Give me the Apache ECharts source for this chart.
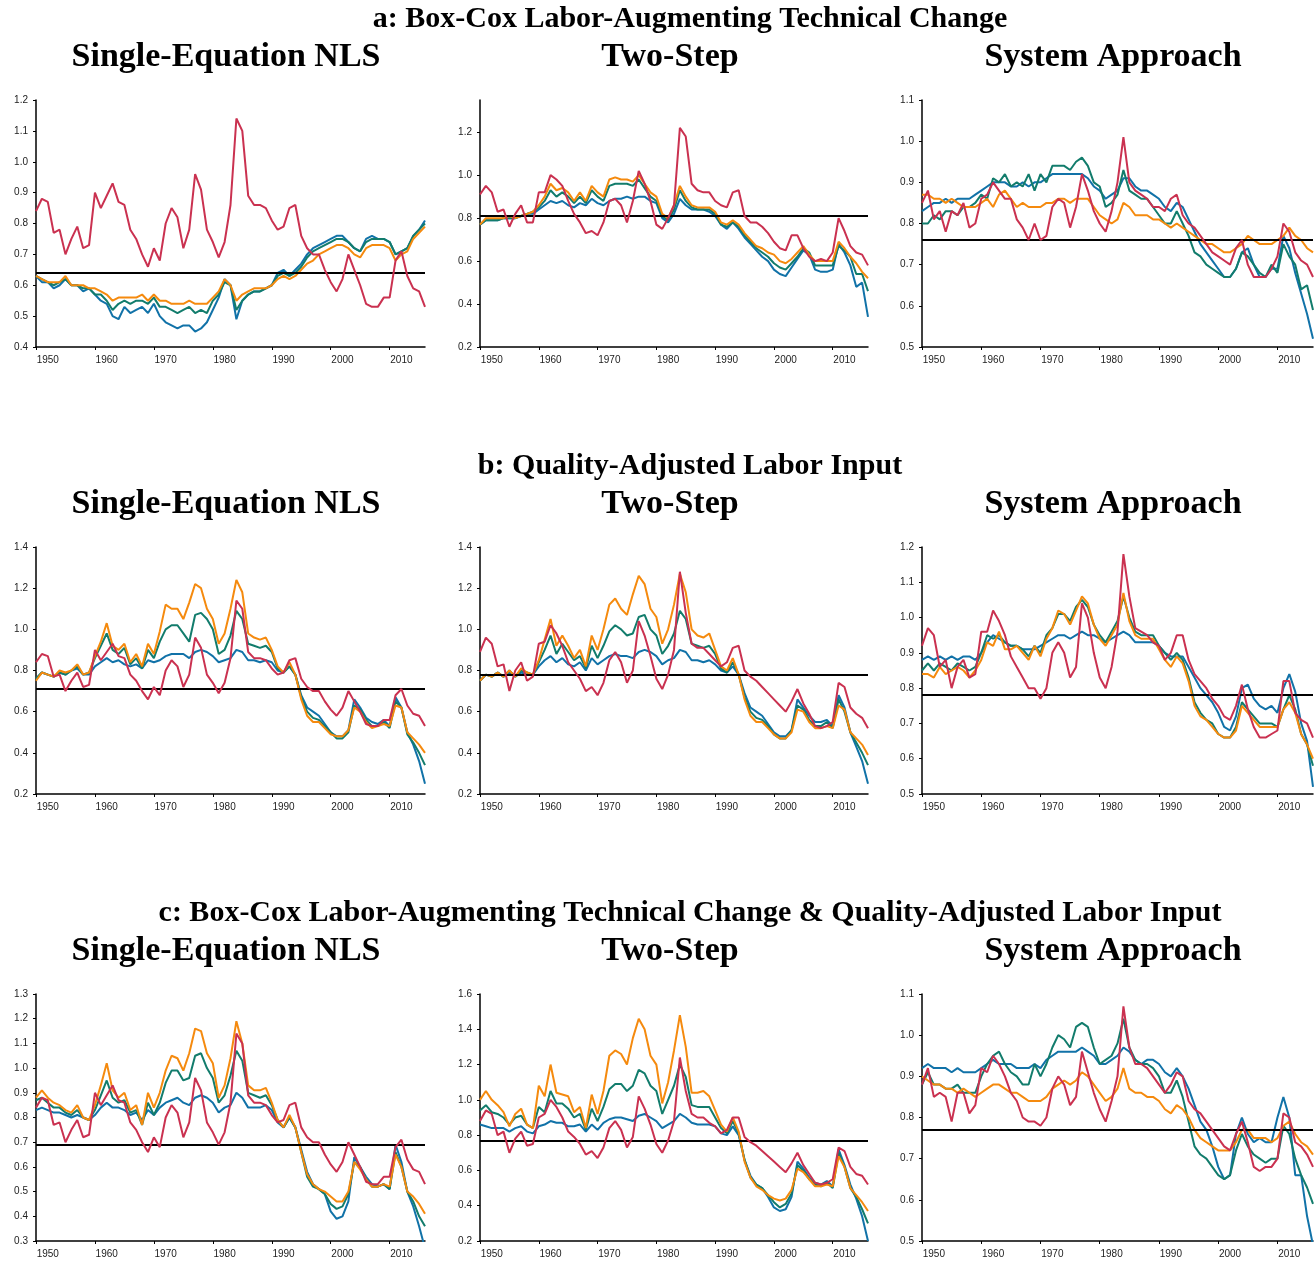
<!DOCTYPE html>
<html><head><meta charset="utf-8">
<script src="https://cdn.jsdelivr.net/npm/echarts@6/dist/echarts.min.js"></script>
<style>html,body{margin:0;padding:0;background:#fff}#c{width:1316px;height:1263px}</style>
</head><body><div id="c"></div>
<script>
// ---------- DATA (annual readings, 1948 .. 2014) ----------
const years = [];
for (let y = 1948; y <= 2014; y++) years.push(y);
const xLabelYears = [1950, 1960, 1970, 1980, 1990, 2000, 2010];
const xTickYears = [1948, 1958, 1968, 1978, 1988, 1998, 2008];

const rowTitles = ['a: Box-Cox Labor-Augmenting Technical Change', 'b: Quality-Adjusted Labor Input',
  'c: Box-Cox Labor-Augmenting Technical Change & Quality-Adjusted Labor Input'];
const colTitles = ['Single-Equation NLS', 'Two-Step', 'System Approach'];

const meansA = [0.635, 0.805, 0.755];
const meansB = [0.707, 0.778, 0.775];
const meansC = [0.690, 0.767, 0.766];

// Panel a1
const a1Red = [0.84,0.88,0.87,0.77,0.78,0.70,0.75,0.79,0.72,0.73,
 0.90,0.85,0.89,0.93,0.87,0.86,0.78,0.75,0.70,0.66,
 0.72,0.68,0.80,0.85,0.82,0.72,0.78,0.96,0.91,0.78,
 0.74,0.69,0.74,0.86,1.14,1.10,0.89,0.86,0.86,0.85,
 0.81,0.78,0.79,0.85,0.86,0.76,0.72,0.70,0.70,0.65,
 0.61,0.58,0.62,0.70,0.65,0.60,0.54,0.53,0.53,0.56,
 0.56,0.68,0.71,0.63,0.59,0.58,0.53];
const a1Teal = [0.63,0.62,0.61,0.60,0.61,0.62,0.60,0.60,0.59,0.59,
 0.57,0.57,0.55,0.52,0.54,0.55,0.54,0.55,0.55,0.54,
 0.56,0.53,0.53,0.52,0.51,0.52,0.53,0.51,0.52,0.51,
 0.55,0.57,0.61,0.60,0.52,0.55,0.57,0.58,0.58,0.59,
 0.60,0.63,0.64,0.63,0.64,0.66,0.69,0.71,0.72,0.73,
 0.74,0.75,0.75,0.74,0.72,0.71,0.74,0.75,0.75,0.75,
 0.74,0.70,0.71,0.72,0.76,0.78,0.80];
const a1Orange = [0.63,0.62,0.61,0.61,0.61,0.63,0.60,0.60,0.60,0.59,
 0.59,0.58,0.57,0.55,0.56,0.56,0.56,0.56,0.57,0.55,
 0.57,0.55,0.55,0.54,0.54,0.54,0.55,0.54,0.54,0.54,
 0.56,0.58,0.62,0.60,0.55,0.57,0.58,0.59,0.59,0.59,
 0.60,0.62,0.63,0.62,0.63,0.65,0.67,0.68,0.70,0.71,
 0.72,0.73,0.73,0.72,0.70,0.69,0.72,0.73,0.73,0.73,
 0.72,0.68,0.70,0.71,0.75,0.77,0.79];
const a1Blue = [0.63,0.61,0.61,0.59,0.60,0.62,0.60,0.60,0.58,0.59,
 0.57,0.55,0.54,0.50,0.49,0.53,0.51,0.52,0.53,0.51,
 0.54,0.50,0.48,0.47,0.46,0.47,0.47,0.45,0.46,0.48,
 0.52,0.56,0.62,0.60,0.49,0.55,0.57,0.58,0.58,0.59,
 0.60,0.64,0.65,0.63,0.65,0.67,0.70,0.72,0.73,0.74,
 0.75,0.76,0.76,0.74,0.72,0.71,0.75,0.76,0.75,0.75,
 0.74,0.70,0.71,0.72,0.76,0.78,0.81];

// Panel a2
const a2Red = [0.91,0.95,0.92,0.83,0.84,0.76,0.82,0.86,0.78,0.78,
 0.92,0.92,1.00,0.98,0.95,0.88,0.82,0.78,0.73,0.74,
 0.72,0.78,0.88,0.89,0.86,0.78,0.88,1.02,0.96,0.88,
 0.77,0.75,0.80,0.86,1.22,1.18,0.96,0.93,0.92,0.92,
 0.88,0.86,0.85,0.92,0.93,0.81,0.78,0.78,0.76,0.73,
 0.69,0.66,0.65,0.72,0.72,0.66,0.62,0.60,0.61,0.60,
 0.64,0.80,0.74,0.67,0.64,0.63,0.58];
const a2Teal = [0.77,0.79,0.79,0.79,0.80,0.80,0.80,0.81,0.82,0.83,
 0.85,0.88,0.93,0.90,0.92,0.90,0.87,0.90,0.87,0.93,
 0.90,0.88,0.95,0.96,0.96,0.96,0.95,0.98,0.94,0.90,
 0.88,0.81,0.79,0.84,0.93,0.88,0.85,0.84,0.84,0.84,
 0.82,0.77,0.76,0.78,0.76,0.72,0.69,0.66,0.64,0.62,
 0.59,0.57,0.56,0.59,0.62,0.66,0.64,0.58,0.58,0.58,
 0.58,0.67,0.65,0.62,0.54,0.54,0.46];
const a2Orange = [0.77,0.80,0.80,0.80,0.80,0.81,0.80,0.81,0.82,0.83,
 0.86,0.90,0.96,0.93,0.94,0.92,0.88,0.92,0.88,0.95,
 0.92,0.90,0.98,0.99,0.98,0.98,0.97,1.00,0.96,0.92,
 0.90,0.82,0.80,0.86,0.95,0.90,0.86,0.85,0.85,0.85,
 0.83,0.78,0.77,0.79,0.77,0.73,0.70,0.67,0.66,0.64,
 0.63,0.60,0.59,0.61,0.64,0.67,0.63,0.60,0.60,0.60,
 0.60,0.69,0.66,0.62,0.59,0.55,0.52];
const a2Blue = [0.77,0.79,0.79,0.79,0.80,0.80,0.80,0.81,0.82,0.82,
 0.84,0.86,0.88,0.87,0.88,0.86,0.85,0.87,0.86,0.89,
 0.87,0.86,0.88,0.89,0.89,0.90,0.89,0.90,0.90,0.88,
 0.87,0.80,0.78,0.82,0.89,0.86,0.84,0.84,0.84,0.83,
 0.81,0.77,0.75,0.78,0.75,0.71,0.68,0.65,0.62,0.60,
 0.56,0.54,0.53,0.57,0.61,0.65,0.63,0.56,0.55,0.55,
 0.56,0.68,0.64,0.58,0.48,0.50,0.34];

// Panel a3
const a3Red = [0.85,0.88,0.81,0.83,0.78,0.83,0.82,0.85,0.79,0.80,
 0.86,0.87,0.90,0.88,0.86,0.86,0.81,0.79,0.76,0.80,
 0.76,0.77,0.84,0.86,0.85,0.79,0.84,0.92,0.88,0.83,
 0.80,0.78,0.83,0.90,1.01,0.90,0.88,0.87,0.86,0.84,
 0.84,0.83,0.86,0.87,0.82,0.80,0.79,0.77,0.75,0.73,
 0.72,0.71,0.70,0.74,0.76,0.70,0.67,0.67,0.67,0.69,
 0.72,0.80,0.78,0.73,0.71,0.70,0.67];
const a3Teal = [0.80,0.80,0.82,0.81,0.83,0.83,0.82,0.84,0.84,0.85,
 0.87,0.86,0.91,0.90,0.92,0.89,0.90,0.89,0.92,0.88,
 0.92,0.90,0.94,0.94,0.94,0.93,0.95,0.96,0.94,0.90,
 0.89,0.84,0.85,0.87,0.93,0.88,0.87,0.86,0.86,0.84,
 0.82,0.80,0.80,0.83,0.80,0.77,0.73,0.72,0.70,0.69,
 0.68,0.67,0.67,0.69,0.73,0.72,0.70,0.68,0.67,0.70,
 0.68,0.75,0.72,0.70,0.64,0.65,0.59];
const a3Orange = [0.87,0.87,0.86,0.86,0.85,0.86,0.85,0.84,0.84,0.84,
 0.85,0.86,0.84,0.87,0.88,0.86,0.84,0.85,0.84,0.84,
 0.84,0.85,0.85,0.86,0.86,0.85,0.86,0.86,0.86,0.84,
 0.82,0.81,0.80,0.81,0.85,0.84,0.82,0.82,0.82,0.81,
 0.81,0.80,0.79,0.80,0.79,0.78,0.77,0.76,0.75,0.75,
 0.74,0.73,0.73,0.74,0.75,0.77,0.76,0.75,0.75,0.75,
 0.76,0.77,0.79,0.77,0.76,0.74,0.73];
const a3Blue = [0.83,0.84,0.85,0.85,0.86,0.85,0.86,0.86,0.86,0.87,
 0.88,0.89,0.90,0.90,0.90,0.89,0.89,0.90,0.89,0.90,
 0.90,0.91,0.92,0.92,0.92,0.92,0.92,0.92,0.91,0.89,
 0.88,0.86,0.87,0.88,0.91,0.91,0.89,0.88,0.88,0.87,
 0.86,0.84,0.83,0.85,0.84,0.81,0.78,0.75,0.73,0.71,
 0.69,0.67,0.67,0.69,0.73,0.74,0.70,0.67,0.67,0.69,
 0.69,0.77,0.74,0.68,0.63,0.58,0.52];

// Panel b1 (red series reads the same as in panel a1)
const b1Red = a1Red;
const b1Teal = [0.76,0.79,0.78,0.77,0.79,0.78,0.80,0.82,0.78,0.79,
 0.86,0.92,0.98,0.90,0.88,0.91,0.83,0.86,0.81,0.90,
 0.86,0.94,1.00,1.02,1.02,0.98,0.94,1.07,1.08,1.05,
 1.00,0.88,0.90,0.97,1.09,1.05,0.93,0.92,0.91,0.92,
 0.89,0.81,0.79,0.82,0.78,0.67,0.60,0.57,0.56,0.53,
 0.50,0.47,0.47,0.50,0.63,0.61,0.56,0.53,0.53,0.55,
 0.52,0.65,0.62,0.49,0.45,0.40,0.34];
const b1Orange = [0.75,0.79,0.78,0.77,0.80,0.79,0.80,0.83,0.78,0.79,
 0.87,0.94,1.03,0.92,0.90,0.93,0.84,0.88,0.82,0.93,
 0.88,0.99,1.12,1.10,1.10,1.05,1.13,1.22,1.20,1.10,
 1.05,0.93,0.98,1.10,1.24,1.18,0.98,0.96,0.95,0.96,
 0.90,0.82,0.79,0.84,0.78,0.66,0.58,0.55,0.55,0.52,
 0.49,0.48,0.48,0.51,0.62,0.60,0.55,0.52,0.53,0.54,
 0.53,0.63,0.62,0.50,0.47,0.44,0.40];
const b1Blue = [0.76,0.79,0.78,0.77,0.79,0.78,0.80,0.81,0.78,0.78,
 0.82,0.84,0.86,0.84,0.85,0.83,0.82,0.83,0.81,0.85,
 0.84,0.85,0.87,0.88,0.88,0.88,0.86,0.89,0.90,0.89,
 0.87,0.84,0.85,0.86,0.90,0.89,0.85,0.85,0.84,0.85,
 0.84,0.80,0.79,0.82,0.78,0.68,0.62,0.60,0.58,0.54,
 0.50,0.48,0.48,0.51,0.66,0.62,0.57,0.55,0.54,0.56,
 0.53,0.67,0.62,0.50,0.44,0.36,0.25];

// Panel b2
const b2Red = [0.89,0.96,0.93,0.82,0.83,0.70,0.80,0.84,0.75,0.77,
 0.93,0.94,1.02,0.98,0.92,0.84,0.80,0.76,0.70,0.72,
 0.68,0.74,0.85,0.89,0.84,0.74,0.80,1.04,0.97,0.87,
 0.76,0.71,0.78,0.90,1.28,1.08,0.93,0.91,0.91,0.88,
 0.85,0.82,0.84,0.91,0.92,0.80,0.77,0.75,0.72,0.69,
 0.66,0.63,0.60,0.65,0.71,0.64,0.59,0.53,0.52,0.53,
 0.55,0.74,0.72,0.62,0.59,0.57,0.52];
const b2Teal = [0.75,0.78,0.77,0.79,0.77,0.80,0.77,0.80,0.79,0.78,
 0.84,0.90,0.97,0.88,0.93,0.89,0.85,0.87,0.81,0.92,
 0.86,0.92,0.99,1.02,1.00,0.97,0.98,1.06,1.07,1.00,
 0.97,0.88,0.92,0.98,1.09,1.05,0.93,0.92,0.91,0.92,
 0.88,0.81,0.79,0.84,0.78,0.67,0.60,0.57,0.56,0.53,
 0.49,0.47,0.47,0.51,0.63,0.61,0.56,0.53,0.53,0.55,
 0.52,0.66,0.60,0.50,0.45,0.40,0.34];
const b2Orange = [0.75,0.78,0.77,0.79,0.77,0.80,0.77,0.81,0.79,0.78,
 0.85,0.95,1.05,0.92,0.97,0.92,0.86,0.90,0.82,0.97,
 0.90,1.00,1.12,1.15,1.10,1.07,1.17,1.26,1.22,1.10,
 1.06,0.93,1.00,1.12,1.27,1.18,1.00,0.97,0.96,0.98,
 0.90,0.82,0.80,0.86,0.78,0.66,0.58,0.55,0.55,0.52,
 0.49,0.47,0.47,0.50,0.61,0.60,0.55,0.52,0.52,0.53,
 0.52,0.63,0.61,0.50,0.47,0.44,0.39];
const b2Blue = [0.75,0.78,0.77,0.79,0.77,0.79,0.77,0.79,0.78,0.78,
 0.82,0.85,0.87,0.84,0.86,0.83,0.82,0.84,0.80,0.86,
 0.83,0.85,0.87,0.88,0.87,0.87,0.86,0.89,0.90,0.89,
 0.87,0.83,0.85,0.86,0.90,0.89,0.85,0.85,0.84,0.85,
 0.83,0.80,0.79,0.82,0.78,0.69,0.62,0.60,0.58,0.54,
 0.50,0.48,0.48,0.51,0.66,0.62,0.58,0.55,0.55,0.56,
 0.53,0.68,0.62,0.50,0.43,0.36,0.25];

// Panel b3
const b3Red = [0.92,0.97,0.95,0.86,0.88,0.80,0.86,0.88,0.83,0.84,
 0.96,0.96,1.02,0.99,0.95,0.89,0.86,0.83,0.80,0.80,
 0.77,0.80,0.90,0.93,0.90,0.83,0.86,1.04,1.00,0.90,
 0.83,0.80,0.86,0.96,1.18,1.06,0.97,0.96,0.95,0.93,
 0.92,0.88,0.90,0.95,0.95,0.88,0.84,0.82,0.80,0.77,
 0.75,0.72,0.71,0.75,0.81,0.74,0.69,0.66,0.66,0.67,
 0.68,0.82,0.82,0.73,0.71,0.70,0.66];
const b3Teal = [0.85,0.87,0.85,0.87,0.86,0.85,0.87,0.86,0.85,0.86,
 0.90,0.95,0.94,0.95,0.93,0.92,0.92,0.91,0.89,0.92,
 0.90,0.95,0.97,1.01,1.01,0.99,1.03,1.05,1.03,0.98,
 0.95,0.93,0.96,0.99,1.06,1.00,0.96,0.95,0.95,0.95,
 0.92,0.90,0.88,0.90,0.88,0.83,0.76,0.73,0.71,0.70,
 0.67,0.66,0.66,0.69,0.76,0.74,0.72,0.70,0.70,0.70,
 0.69,0.74,0.78,0.74,0.67,0.64,0.58];
const b3Orange = [0.84,0.84,0.83,0.86,0.84,0.85,0.86,0.85,0.83,0.85,
 0.88,0.93,0.92,0.96,0.91,0.91,0.92,0.90,0.88,0.92,
 0.89,0.94,0.97,1.02,1.01,0.98,1.02,1.06,1.04,0.98,
 0.94,0.92,0.95,0.98,1.07,0.99,0.95,0.94,0.94,0.94,
 0.91,0.88,0.86,0.89,0.87,0.82,0.75,0.72,0.71,0.69,
 0.67,0.66,0.66,0.68,0.75,0.73,0.71,0.69,0.69,0.69,
 0.69,0.74,0.76,0.73,0.67,0.64,0.60];
const b3Blue = [0.88,0.89,0.88,0.89,0.88,0.89,0.88,0.89,0.89,0.88,
 0.90,0.93,0.95,0.94,0.93,0.92,0.92,0.91,0.91,0.91,
 0.92,0.93,0.94,0.95,0.95,0.94,0.95,0.96,0.95,0.95,
 0.94,0.93,0.94,0.95,0.96,0.95,0.93,0.93,0.93,0.93,
 0.92,0.90,0.89,0.89,0.89,0.86,0.83,0.80,0.78,0.76,
 0.73,0.69,0.68,0.72,0.80,0.81,0.77,0.75,0.74,0.75,
 0.73,0.80,0.84,0.79,0.70,0.65,0.52];

// Panel c1 (red series reads the same as in panel a1)
const c1Red = a1Red;
const c1Teal = [0.87,0.88,0.86,0.84,0.84,0.82,0.81,0.83,0.80,0.79,
 0.83,0.89,0.95,0.88,0.86,0.87,0.82,0.83,0.77,0.86,
 0.81,0.86,0.94,0.99,0.99,0.95,0.96,1.05,1.06,1.00,
 0.96,0.86,0.89,0.97,1.07,1.03,0.90,0.89,0.88,0.89,
 0.85,0.79,0.76,0.80,0.76,0.66,0.56,0.52,0.51,0.49,
 0.45,0.43,0.44,0.49,0.62,0.60,0.55,0.52,0.52,0.53,
 0.51,0.66,0.60,0.50,0.46,0.40,0.36];
const c1Orange = [0.88,0.91,0.88,0.86,0.85,0.83,0.82,0.85,0.80,0.79,
 0.85,0.93,1.02,0.91,0.88,0.90,0.83,0.85,0.77,0.90,
 0.84,0.90,0.99,1.05,1.04,0.99,1.06,1.16,1.15,1.06,
 1.02,0.88,0.93,1.04,1.19,1.10,0.93,0.91,0.91,0.92,
 0.86,0.79,0.76,0.81,0.76,0.66,0.57,0.53,0.51,0.50,
 0.48,0.46,0.46,0.50,0.62,0.59,0.55,0.52,0.52,0.53,
 0.52,0.65,0.60,0.50,0.48,0.45,0.41];
const c1Blue = [0.83,0.84,0.83,0.82,0.82,0.81,0.80,0.81,0.80,0.79,
 0.81,0.84,0.86,0.84,0.84,0.83,0.81,0.82,0.79,0.83,
 0.81,0.84,0.86,0.87,0.88,0.86,0.85,0.88,0.89,0.88,
 0.86,0.82,0.84,0.85,0.90,0.88,0.84,0.84,0.84,0.85,
 0.83,0.78,0.76,0.80,0.76,0.67,0.58,0.53,0.51,0.49,
 0.42,0.39,0.40,0.46,0.64,0.60,0.56,0.53,0.52,0.53,
 0.51,0.69,0.62,0.50,0.44,0.36,0.27];

// Panel c2
const c2Red = [0.88,0.94,0.92,0.80,0.82,0.70,0.78,0.82,0.74,0.75,
 0.90,0.92,1.00,0.96,0.90,0.82,0.79,0.75,0.69,0.71,
 0.67,0.73,0.84,0.88,0.83,0.73,0.79,1.02,0.95,0.86,
 0.75,0.70,0.77,0.88,1.24,1.05,0.92,0.90,0.90,0.87,
 0.85,0.81,0.83,0.90,0.90,0.79,0.76,0.74,0.71,0.68,
 0.65,0.62,0.59,0.64,0.70,0.63,0.58,0.53,0.52,0.53,
 0.55,0.73,0.71,0.62,0.58,0.57,0.52];
const c2Teal = [0.94,0.97,0.93,0.92,0.90,0.86,0.90,0.91,0.86,0.84,
 0.96,0.93,1.05,0.98,0.98,0.95,0.90,0.92,0.83,0.95,
 0.88,0.96,1.06,1.09,1.09,1.05,1.08,1.17,1.15,1.08,
 1.05,0.92,1.00,1.08,1.20,1.13,0.97,0.96,0.96,0.96,
 0.90,0.84,0.81,0.88,0.81,0.66,0.56,0.52,0.50,0.46,
 0.42,0.39,0.41,0.47,0.63,0.60,0.55,0.52,0.51,0.53,
 0.50,0.70,0.62,0.50,0.45,0.38,0.30];
const c2Orange = [1.00,1.05,1.00,0.97,0.93,0.85,0.92,0.95,0.86,0.84,
 1.08,1.02,1.20,1.04,1.03,1.02,0.93,0.96,0.84,1.03,
 0.92,1.05,1.25,1.28,1.26,1.20,1.35,1.46,1.40,1.25,
 1.20,0.98,1.10,1.28,1.48,1.30,1.04,1.04,1.05,1.02,
 0.94,0.86,0.82,0.90,0.82,0.65,0.56,0.51,0.49,0.46,
 0.44,0.43,0.44,0.49,0.61,0.59,0.55,0.51,0.51,0.52,
 0.51,0.68,0.62,0.50,0.46,0.42,0.37];
const c2Blue = [0.86,0.85,0.84,0.84,0.84,0.82,0.84,0.85,0.82,0.81,
 0.85,0.86,0.88,0.87,0.87,0.85,0.85,0.86,0.82,0.86,
 0.83,0.87,0.89,0.90,0.90,0.89,0.88,0.91,0.92,0.90,
 0.88,0.84,0.86,0.88,0.92,0.90,0.87,0.86,0.86,0.86,
 0.85,0.81,0.80,0.85,0.80,0.66,0.57,0.52,0.50,0.45,
 0.39,0.37,0.38,0.45,0.65,0.61,0.56,0.53,0.52,0.54,
 0.51,0.72,0.63,0.52,0.44,0.34,0.20];

// Panel c3
const c3Red = [0.88,0.92,0.85,0.86,0.85,0.79,0.86,0.86,0.81,0.83,
 0.92,0.91,0.95,0.93,0.90,0.86,0.84,0.80,0.79,0.79,
 0.78,0.80,0.87,0.90,0.88,0.83,0.85,0.96,0.91,0.86,
 0.82,0.79,0.84,0.90,1.07,0.97,0.93,0.93,0.92,0.90,
 0.88,0.86,0.88,0.91,0.90,0.84,0.82,0.81,0.79,0.77,
 0.75,0.73,0.72,0.76,0.79,0.74,0.68,0.67,0.68,0.68,
 0.70,0.81,0.80,0.74,0.73,0.71,0.68];
const c3Teal = [0.88,0.91,0.88,0.88,0.87,0.87,0.88,0.86,0.86,0.86,
 0.90,0.93,0.95,0.96,0.93,0.91,0.90,0.88,0.88,0.93,
 0.90,0.93,0.97,1.00,0.99,0.97,1.02,1.03,1.02,0.97,
 0.93,0.94,0.95,0.98,1.04,0.97,0.94,0.93,0.93,0.92,
 0.90,0.86,0.86,0.89,0.85,0.79,0.73,0.71,0.70,0.68,
 0.66,0.65,0.66,0.72,0.76,0.73,0.71,0.70,0.69,0.70,
 0.70,0.78,0.76,0.70,0.66,0.63,0.59];
const c3Orange = [0.90,0.89,0.88,0.88,0.87,0.87,0.86,0.87,0.86,0.85,
 0.86,0.87,0.88,0.88,0.87,0.86,0.86,0.85,0.84,0.84,
 0.84,0.85,0.87,0.88,0.89,0.88,0.89,0.91,0.90,0.88,
 0.86,0.84,0.85,0.87,0.92,0.87,0.86,0.86,0.85,0.85,
 0.84,0.82,0.81,0.83,0.82,0.80,0.77,0.75,0.74,0.73,
 0.72,0.72,0.72,0.74,0.77,0.77,0.75,0.75,0.75,0.74,
 0.75,0.78,0.79,0.76,0.74,0.73,0.71];
const c3Blue = [0.92,0.93,0.92,0.92,0.92,0.91,0.92,0.91,0.91,0.91,
 0.92,0.93,0.94,0.93,0.93,0.93,0.92,0.92,0.92,0.93,
 0.92,0.94,0.95,0.96,0.96,0.96,0.96,0.97,0.96,0.95,
 0.93,0.93,0.94,0.95,0.97,0.96,0.94,0.93,0.94,0.94,
 0.93,0.91,0.90,0.92,0.90,0.87,0.83,0.79,0.77,0.73,
 0.68,0.65,0.66,0.76,0.80,0.76,0.74,0.75,0.74,0.74,
 0.80,0.85,0.80,0.66,0.66,0.56,0.49];

// ---------- LAYOUT / STYLE ----------
const COLORS = { blue: '#1172A8', teal: '#127C6C', orange: '#F58A0E', red: '#CA3150' };
const cols = [{ left: 36, width: 389 }, { left: 480, width: 388 }, { left: 922, width: 391 }];
const rowTops = [100, 547, 994];
const plotH = 247;
const rowTitleY = [19, 466, 913];
const subTitleY = [57, 504, 951];
const subTitleX = [226, 670, 1113];

const panels = [
  { r: 0, c: 0, y: [0.4, 1.2, 0.1], mean: meansA[0], s: { blue: a1Blue, teal: a1Teal, orange: a1Orange, red: a1Red } },
  { r: 0, c: 1, y: [0.2, 1.35, 0.2], hideMax: true, mean: meansA[1], s: { blue: a2Blue, teal: a2Teal, orange: a2Orange, red: a2Red } },
  { r: 0, c: 2, y: [0.5, 1.1, 0.1], mean: meansA[2], s: { blue: a3Blue, teal: a3Teal, orange: a3Orange, red: a3Red } },
  { r: 1, c: 0, y: [0.2, 1.4, 0.2], mean: meansB[0], s: { blue: b1Blue, teal: b1Teal, orange: b1Orange, red: b1Red } },
  { r: 1, c: 1, y: [0.2, 1.4, 0.2], mean: meansB[1], s: { blue: b2Blue, teal: b2Teal, orange: b2Orange, red: b2Red } },
  { r: 1, c: 2, y: [0.5, 1.2, 0.1], mean: meansB[2], s: { blue: b3Blue, teal: b3Teal, orange: b3Orange, red: b3Red } },
  { r: 2, c: 0, y: [0.3, 1.3, 0.1], mean: meansC[0], s: { blue: c1Blue, teal: c1Teal, orange: c1Orange, red: c1Red } },
  { r: 2, c: 1, y: [0.2, 1.6, 0.2], mean: meansC[1], s: { blue: c2Blue, teal: c2Teal, orange: c2Orange, red: c2Red } },
  { r: 2, c: 2, y: [0.5, 1.1, 0.1], mean: meansC[2], s: { blue: c3Blue, teal: c3Teal, orange: c3Orange, red: c3Red } }
];

const option = { animation: false, backgroundColor: '#fff', grid: [], xAxis: [], yAxis: [], series: [], graphic: [] };
const labelFont = { fontSize: 10, fontFamily: '"Liberation Sans", Arial, sans-serif', color: '#222' };

panels.forEach((p, i) => {
  const col = cols[p.c];
  option.grid.push({ left: col.left, top: rowTops[p.r], width: col.width, height: plotH });
  option.xAxis.push({
    type: 'value', gridIndex: i, min: 1948, max: 2014,
    axisLine: { show: true, onZero: false, lineStyle: { color: '#000', width: 1.5 } },
    axisTick: { show: true, customValues: xTickYears, length: 3, lineStyle: { color: '#000' } },
    axisLabel: Object.assign({ customValues: xLabelYears, margin: 8, formatter: v => String(v) }, labelFont),
    splitLine: { show: false }
  });
  option.yAxis.push({
    type: 'value', gridIndex: i, min: p.y[0], max: p.y[1], interval: p.y[2],
    axisLine: { show: true, onZero: false, lineStyle: { color: '#000', width: 1.5 } },
    axisTick: { show: true, length: 3, lineStyle: { color: '#000' } },
    axisLabel: Object.assign({ margin: 8, showMaxLabel: !p.hideMax, formatter: v => v.toFixed(1) }, labelFont),
    splitLine: { show: false }
  });
  ['blue', 'teal', 'orange', 'red'].forEach((k, j) => {
    const s = {
      type: 'line', xAxisIndex: i, yAxisIndex: i, showSymbol: false, symbol: 'none', silent: true,
      data: years.map((yr, t) => [yr, p.s[k][t]]),
      lineStyle: { color: COLORS[k], width: 2 }, itemStyle: { color: COLORS[k] }, z: 2 + j
    };
    if (k === 'red') {
      s.markLine = { silent: true, symbol: ['none', 'none'], label: { show: false },
        lineStyle: { color: '#000', width: 2, type: 'solid' }, data: [{ yAxis: p.mean }] };
    }
    option.series.push(s);
  });
});

const serif = '"Liberation Serif", "Times New Roman", serif';
rowTitles.forEach((t, r) => {
  option.graphic.push({ type: 'text', x: 690, y: rowTitleY[r],
    style: { text: t, font: 'bold 30px ' + serif, fill: '#000', textAlign: 'center', textVerticalAlign: 'middle' } });
  colTitles.forEach((ct, c) => {
    option.graphic.push({ type: 'text', x: subTitleX[c], y: subTitleY[r],
      style: { text: ct, font: 'bold 34px ' + serif, fill: '#000', textAlign: 'center', textVerticalAlign: 'middle' } });
  });
});

const chart = echarts.init(document.getElementById('c'), null, { renderer: 'canvas' });
chart.setOption(option);
</script>
</body></html>
